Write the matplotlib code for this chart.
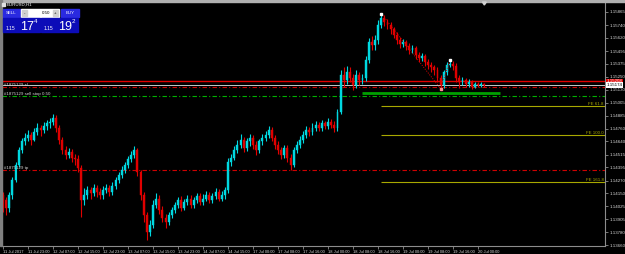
import numpy as np
import matplotlib.pyplot as plt
from matplotlib.patches import Rectangle, Polygon
from matplotlib.transforms import blended_transform_factory

plt.rcParams['font.family'] = ['Liberation Sans', 'DejaVu Sans']

# --- данные графика (EURUSD, H1) ---
symbol = "EURUSD,H1"
bid = 1.15174
ask = 1.15192
lot = "0.50"

opens = [1.1413, 1.1409, 1.1401, 1.1413, 1.1428, 1.1442, 1.1456, 1.1464, 1.1467, 1.1470,
         1.1465, 1.1473, 1.1477, 1.1475, 1.1479, 1.1481, 1.1482, 1.1486, 1.1477, 1.1465,
         1.1456, 1.1451, 1.1454, 1.1448, 1.1447, 1.1439, 1.1409, 1.1413, 1.1418, 1.1415,
         1.1420, 1.1416, 1.1413, 1.1418, 1.1420, 1.1416, 1.1422, 1.1428, 1.1432, 1.1437,
         1.1442, 1.1447, 1.1451, 1.1456, 1.1435, 1.1413, 1.1394, 1.1378, 1.1385, 1.1404,
         1.1410, 1.1399, 1.1392, 1.1388, 1.1394, 1.1399, 1.1404, 1.1409, 1.1401, 1.1407,
         1.1410, 1.1404, 1.1409, 1.1412, 1.1407, 1.1410, 1.1413, 1.1409, 1.1412, 1.1416,
         1.1410, 1.1413, 1.1418, 1.1445, 1.1448, 1.1456, 1.1461, 1.1465, 1.1458, 1.1464,
         1.1467, 1.1461, 1.1456, 1.1464, 1.1467, 1.1470, 1.1475, 1.1467, 1.1461, 1.1456,
         1.1451, 1.1458, 1.1448, 1.1442, 1.1456, 1.1461, 1.1465, 1.1470, 1.1475, 1.1473,
         1.1477, 1.1480, 1.1477, 1.1481, 1.1479, 1.1482, 1.1480, 1.1477, 1.1492, 1.1527,
         1.1522, 1.1530, 1.1524, 1.1517, 1.1527, 1.1522, 1.1524, 1.1541, 1.1558, 1.1555,
         1.1560, 1.1574, 1.1581, 1.1577, 1.1574, 1.1570, 1.1565, 1.1560, 1.1556, 1.1558,
         1.1554, 1.1551, 1.1552, 1.1546, 1.1543, 1.1545, 1.1539, 1.1536, 1.1534, 1.1532,
         1.1524, 1.1517, 1.1530, 1.1536, 1.1537, 1.1535, 1.1524, 1.1520, 1.1522, 1.1518,
         1.1520, 1.1516, 1.1518, 1.1517, 1.1518]

closes = [1.1409, 1.1401, 1.1413, 1.1428, 1.1442, 1.1456, 1.1464, 1.1467, 1.1470, 1.1465,
          1.1473, 1.1477, 1.1475, 1.1479, 1.1481, 1.1482, 1.1486, 1.1477, 1.1465, 1.1456,
          1.1451, 1.1454, 1.1448, 1.1447, 1.1439, 1.1409, 1.1413, 1.1418, 1.1415, 1.1420,
          1.1416, 1.1413, 1.1418, 1.1420, 1.1416, 1.1422, 1.1428, 1.1432, 1.1437, 1.1442,
          1.1447, 1.1451, 1.1456, 1.1435, 1.1413, 1.1394, 1.1378, 1.1385, 1.1404, 1.1410,
          1.1399, 1.1392, 1.1388, 1.1394, 1.1399, 1.1404, 1.1409, 1.1401, 1.1407, 1.1410,
          1.1404, 1.1409, 1.1412, 1.1407, 1.1410, 1.1413, 1.1409, 1.1412, 1.1416, 1.1410,
          1.1413, 1.1418, 1.1445, 1.1448, 1.1456, 1.1461, 1.1465, 1.1458, 1.1464, 1.1467,
          1.1461, 1.1456, 1.1464, 1.1467, 1.1470, 1.1475, 1.1467, 1.1461, 1.1456, 1.1451,
          1.1458, 1.1448, 1.1442, 1.1456, 1.1461, 1.1465, 1.1470, 1.1475, 1.1473, 1.1477,
          1.1480, 1.1477, 1.1481, 1.1479, 1.1482, 1.1480, 1.1477, 1.1492, 1.1527, 1.1522,
          1.1530, 1.1524, 1.1517, 1.1527, 1.1522, 1.1524, 1.1541, 1.1558, 1.1555, 1.1560,
          1.1574, 1.1581, 1.1577, 1.1574, 1.1570, 1.1565, 1.1560, 1.1556, 1.1558, 1.1554,
          1.1551, 1.1552, 1.1546, 1.1543, 1.1545, 1.1539, 1.1536, 1.1534, 1.1532, 1.1524,
          1.1517, 1.1530, 1.1536, 1.1537, 1.1535, 1.1524, 1.1520, 1.1522, 1.1518, 1.1520,
          1.1516, 1.1518, 1.1517, 1.1518, 1.1517]

highs = [1.1416, 1.1411, 1.1416, 1.1430, 1.1445, 1.1459, 1.1467, 1.1472, 1.1475, 1.1473,
         1.1477, 1.1481, 1.1480, 1.1482, 1.1484, 1.1486, 1.1490, 1.1489, 1.1480, 1.1468,
         1.1460, 1.1458, 1.1457, 1.1452, 1.1451, 1.1442, 1.1420, 1.1422, 1.1421, 1.1424,
         1.1423, 1.1420, 1.1422, 1.1424, 1.1423, 1.1426, 1.1430, 1.1435, 1.1441, 1.1445,
         1.1450, 1.1455, 1.1460, 1.1458, 1.1437, 1.1416, 1.1397, 1.1390, 1.1409, 1.1415,
         1.1413, 1.1403, 1.1395, 1.1397, 1.1402, 1.1407, 1.1411, 1.1412, 1.1410, 1.1413,
         1.1413, 1.1411, 1.1415, 1.1415, 1.1414, 1.1417, 1.1416, 1.1415, 1.1420, 1.1419,
         1.1417, 1.1421, 1.1448, 1.1452, 1.1460, 1.1465, 1.1471, 1.1468, 1.1467, 1.1471,
         1.1470, 1.1464, 1.1466, 1.1471, 1.1474, 1.1479, 1.1478, 1.1470, 1.1464, 1.1459,
         1.1461, 1.1461, 1.1452, 1.1459, 1.1464, 1.1469, 1.1474, 1.1479, 1.1478, 1.1481,
         1.1483, 1.1482, 1.1484, 1.1483, 1.1486, 1.1485, 1.1483, 1.1495, 1.1532, 1.1534,
         1.1535, 1.1534, 1.1528, 1.1532, 1.1530, 1.1528, 1.1545, 1.1562, 1.1564, 1.1565,
         1.1579, 1.1585, 1.1584, 1.1580, 1.1577, 1.1572, 1.1568, 1.1563, 1.1561, 1.1560,
         1.1557, 1.1555, 1.1554, 1.1549, 1.1548, 1.1547, 1.1542, 1.1539, 1.1536, 1.1534,
         1.1527, 1.1532, 1.1539, 1.1541, 1.1540, 1.1538, 1.1527, 1.1525, 1.1524, 1.1523,
         1.1522, 1.1520, 1.1520, 1.1520, 1.1519]

lows = [1.1397, 1.1394, 1.1397, 1.1410, 1.1426, 1.1440, 1.1453, 1.1461, 1.1464, 1.1461,
        1.1464, 1.1470, 1.1469, 1.1472, 1.1475, 1.1477, 1.1480, 1.1473, 1.1462, 1.1452,
        1.1447, 1.1448, 1.1445, 1.1442, 1.1435, 1.1393, 1.1404, 1.1410, 1.1410, 1.1412,
        1.1411, 1.1410, 1.1410, 1.1415, 1.1412, 1.1413, 1.1419, 1.1425, 1.1429, 1.1434,
        1.1439, 1.1445, 1.1448, 1.1431, 1.1409, 1.1388, 1.1371, 1.1375, 1.1382, 1.1401,
        1.1395, 1.1388, 1.1382, 1.1385, 1.1392, 1.1396, 1.1401, 1.1398, 1.1399, 1.1404,
        1.1401, 1.1401, 1.1406, 1.1404, 1.1404, 1.1408, 1.1406, 1.1406, 1.1410, 1.1408,
        1.1408, 1.1410, 1.1415, 1.1441, 1.1446, 1.1453, 1.1458, 1.1454, 1.1455, 1.1460,
        1.1457, 1.1451, 1.1453, 1.1461, 1.1464, 1.1467, 1.1464, 1.1457, 1.1452, 1.1447,
        1.1448, 1.1445, 1.1437, 1.1440, 1.1453, 1.1458, 1.1463, 1.1467, 1.1469, 1.1470,
        1.1474, 1.1474, 1.1474, 1.1476, 1.1476, 1.1477, 1.1473, 1.1474, 1.1490, 1.1516,
        1.1518, 1.1520, 1.1513, 1.1515, 1.1517, 1.1518, 1.1521, 1.1538, 1.1551, 1.1551,
        1.1556, 1.1571, 1.1573, 1.1570, 1.1566, 1.1562, 1.1556, 1.1552, 1.1553, 1.1551,
        1.1547, 1.1548, 1.1542, 1.1539, 1.1540, 1.1535, 1.1533, 1.1530, 1.1527, 1.1520,
        1.1514, 1.1515, 1.1527, 1.1534, 1.1532, 1.1520, 1.1515, 1.1517, 1.1516, 1.1516,
        1.1514, 1.1515, 1.1516, 1.1516, 1.1516]

time_labels = ["11 Jul 2017", "11 Jul 23:00", "12 Jul 07:00", "12 Jul 15:00", "12 Jul 23:00",
               "13 Jul 07:00", "13 Jul 15:00", "13 Jul 23:00", "14 Jul 07:00", "14 Jul 15:00",
               "17 Jul 00:00", "17 Jul 08:00", "17 Jul 16:00", "18 Jul 00:00", "18 Jul 08:00",
               "18 Jul 16:00", "19 Jul 00:00", "19 Jul 08:00", "19 Jul 16:00", "20 Jul 00:00"]
bars_per_label = 8

price_ticks = [1.15865, 1.15740, 1.15620, 1.15495, 1.15375, 1.15250, 1.15130, 1.15005,
               1.14885, 1.14760, 1.14640, 1.14515, 1.14395, 1.14270, 1.14150, 1.14025,
               1.13905, 1.13780, 1.13660]

# ордер и линии
order_id = "#1875129"
order_open = 1.15066
order_sl = 1.15151
order_tp = 1.14370
red_level = 1.15208
support_level = 1.1510
support_bars = (115, 159)

# Fibo expansion: точки A, B, C (индекс бара, цена)
fibo_pts = [(121, 1.1585), (140, 1.1514), (143, 1.1541)]
fibo_ratios = [61.8, 100.0, 161.8]

# --- оформление ---
W, H = 625, 254
bull = "#00d8e0"
bear = "#e00000"
axis_col = "#8c8c8c"
fe_col = "#a8a800"
fs = 3.2

fig = plt.figure(figsize=(W / 100, H / 100), dpi=100, facecolor="black")
ax = fig.add_axes([2 / W, 8 / H, 603 / W, 243 / H])
ax.set_facecolor("black")

n = len(closes)
x = np.arange(n)
o = np.array(opens)
c = np.array(closes)
h = np.array(highs)
l = np.array(lows)
up = c >= o
cols = np.where(up, bull, bear)

ax.vlines(x, l, h, colors=cols, lw=0.8, zorder=3)
ax.bar(x, np.abs(c - o), bottom=np.minimum(o, c), width=0.6, color=cols,
       edgecolor=cols, linewidth=0.3, zorder=4)

xmax = 192.6
ax.set_xlim(-0.32, xmax)
ax.set_ylim(1.13651, 1.15950)

# горизонтальные линии
dashdot = (0, (4, 2, 1, 2))
ax.axhline(red_level, color="#e00000", lw=1.0, zorder=2)
ax.axhline(bid, color="#c8c8c8", lw=0.7, zorder=2)
ax.axhline(order_sl, color="#d00000", lw=0.8, ls=dashdot, zorder=2)
ax.axhline(order_open, color="#00b000", lw=0.8, ls=dashdot, zorder=2)
ax.axhline(order_tp, color="#d00000", lw=0.8, ls=dashdot, zorder=2)
ax.hlines(support_level, support_bars[0], support_bars[1], color="#00a000", lw=2.0, zorder=5)

tr = blended_transform_factory(ax.transAxes, ax.transData)
lab = dict(fontsize=fs, color="#d0d0d0", transform=tr, ha="left", zorder=6)
ax.text(0.003, order_sl, f"{order_id} sl", va="bottom", **lab)
ax.text(0.003, order_open, f"{order_id} sell stop 0.50", va="bottom", **lab)
ax.text(0.003, order_tp, f"{order_id} tp", va="bottom", **lab)

# Fibo expansion
(ia, pa), (ib, pb), (ic, pc) = fibo_pts
ax.plot([ia, ib, ic], [pa, pb, pc], color="#e00000", lw=0.7, ls=(0, (1, 1.5)), zorder=5)
ax.plot([ia, ic], [pa, pc], ls="none", marker="s", ms=1.5, color="white", zorder=6)
ax.plot([ib], [pb], ls="none", marker="s", ms=1.5, color="#ff9090", zorder=6)
for r in fibo_ratios:
    lvl = pc - (pa - pb) * r / 100
    ax.hlines(lvl, ia, xmax, color=fe_col, lw=0.8, zorder=2)
    ax.text(xmax - 0.5, lvl, f"FE {r:.1f}", fontsize=fs, color=fe_col, ha="right",
            va="bottom", zorder=6)

# оси
for s in ["top", "left"]:
    ax.spines[s].set_visible(False)
for s in ["right", "bottom"]:
    ax.spines[s].set_color(axis_col)
    ax.spines[s].set_linewidth(0.8)

ax.yaxis.tick_right()
ax.set_yticks(price_ticks)
ax.set_yticklabels([f"{p:.5f}" for p in price_ticks])
ax.tick_params(axis="y", colors=axis_col, labelcolor="#d8d8d8", labelsize=fs,
               length=2.5, width=0.6, pad=1.2)
ax.set_xticks(np.arange(len(time_labels)) * bars_per_label)
ax.set_xticklabels(time_labels, ha="left")
ax.tick_params(axis="x", colors=axis_col, labelcolor="#d8d8d8", labelsize=2.9,
               length=2.0, width=0.6, pad=0.8)

# метки цен на шкале
ax.text(1.003, red_level, f"{red_level:.5f}", fontsize=fs, color="white", va="center",
        ha="left", transform=tr,
        bbox=dict(boxstyle="square,pad=0.15", fc="#e00000", ec="none"),
        clip_on=False, zorder=7)
ax.text(1.003, bid, f"{bid:.5f}", fontsize=fs, color="black", va="center", ha="left",
        transform=tr, bbox=dict(boxstyle="square,pad=0.15", fc="white", ec="none"),
        clip_on=False, zorder=8)

# --- рамка окна и панель торговли в один клик ---
ov = fig.add_axes([0, 0, 1, 1])
ov.set_xlim(0, W)
ov.set_ylim(H, 0)
ov.axis("off")
ov.patch.set_alpha(0)
ov.add_patch(Rectangle((0, 0), W, 2, color="#b0b0b0"))
ov.add_patch(Rectangle((0, 0), 2, 246, color="#808080"))

# маркер сдвига графика над последним баром
shift_x = 2 + 603 * (n - 1 + 0.32) / (xmax + 0.32)
ov.add_patch(Polygon([(shift_x - 2, 2), (shift_x + 2, 2), (shift_x, 5)], color="#d0d0d0"))

ov.add_patch(Rectangle((2, 3), 3, 3, color="#e0e0e0"))
ov.text(7, 4.6, symbol, fontsize=fs, color="white", va="center")

btn = "#2a2ae0"
box = "#0c0cb8"
ov.add_patch(Rectangle((3, 9), 17, 8, color=btn))
ov.text(11.5, 13, "SELL", fontsize=fs, color="white", ha="center", va="center")
ov.add_patch(Rectangle((21, 9), 38, 8, color="white"))
ov.add_patch(Rectangle((22, 10), 5, 6, color="#d0d0d0"))
ov.add_patch(Rectangle((53, 10), 5, 6, color="#d0d0d0"))
ov.text(24.5, 13, "-", fontsize=fs, color="black", ha="center", va="center")
ov.text(55.5, 13, "+", fontsize=fs, color="black", ha="center", va="center")
ov.text(50, 13, lot, fontsize=fs, color="black", ha="right", va="center")
ov.add_patch(Rectangle((61, 9), 18, 8, color=btn))
ov.text(70, 13, "BUY", fontsize=fs, color="white", ha="center", va="center")

for x0, price in [(3, bid), (41, ask)]:
    s = f"{price:.5f}"
    ov.add_patch(Rectangle((x0, 18), 37, 14, color=box))
    ov.text(x0 + 3, 28.5, s[:4], fontsize=3.6, color="white", va="center")
    ov.text(x0 + 17, 26.5, s[4:6], fontsize=9, color="white", va="center")
    ov.text(x0 + 31, 21.5, s[6], fontsize=4.5, color="white", va="center")

fig.savefig("out.png", dpi=100, facecolor="black")
